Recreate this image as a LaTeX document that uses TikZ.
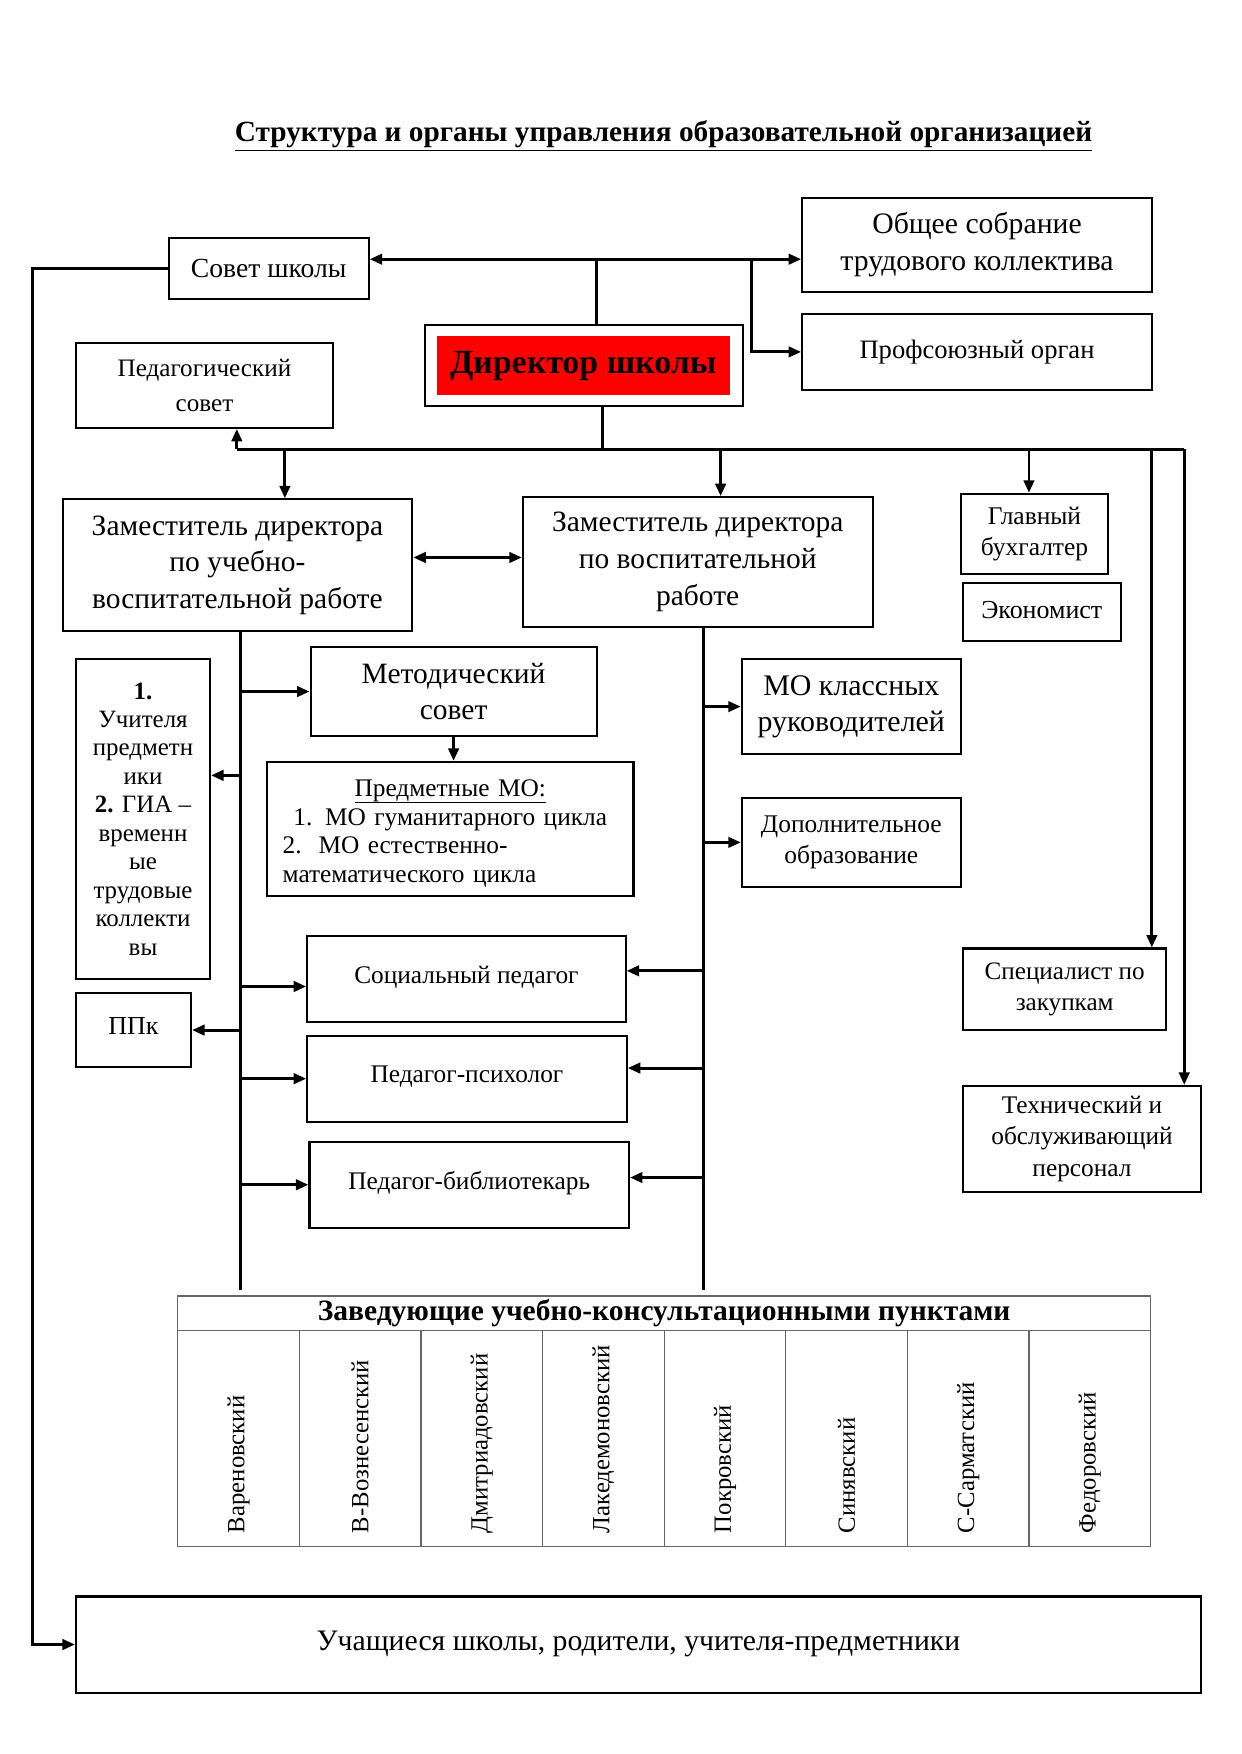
\documentclass[tikz,border=0pt]{standalone}
\usepackage{fontspec}
\setmainfont{Liberation Serif}
\usepackage{tikz}
\usetikzlibrary{arrows.meta}

\newlength\unitpx
\setlength\unitpx{0.18902mm}

\tikzset{
  box/.style={draw, line width=1pt, inner sep=0pt, align=center},
  line/.style={line width=1.4pt},
  arr/.style={line width=1.4pt, -{Triangle[length=6pt,width=5pt]}},
  twoarr/.style={line width=1.4pt, {Triangle[length=6pt,width=5pt]}-{Triangle[length=6pt,width=5pt]}},
  cell/.style={draw=black!60, line width=0.6pt, inner sep=0pt},
}

\begin{document}
\begin{tikzpicture}[x=\unitpx,y=-\unitpx]
    \useasboundingbox (0,0) rectangle (1111,1570);
    % title
    \node[font=\fontsize{14.1}{16}\selectfont\bfseries] (title) at (594,122) {\underline{Структура и органы управления образовательной организацией}};

    % top row
    \node[box, minimum width=179\unitpx, minimum height=55\unitpx, font=\fontsize{13.3}{16}\selectfont] (sovet) at (240.5,240.5) {Совет школы};
    \node[box, minimum width=313\unitpx, minimum height=84\unitpx, font=\fontsize{14.3}{17.7}\selectfont] (obshee) at (874.5,219) {Общее собрание\\трудового коллектива};
    \node[box, minimum width=313\unitpx, minimum height=68\unitpx, font=\fontsize{12.8}{16}\selectfont] (prof) at (874.5,315) {\raisebox{3pt}{Профсоюзный орган}};
    \node[box, minimum width=285\unitpx, minimum height=72\unitpx] (dir) at (522.5,327) {};
    \node[fill=red, minimum width=262\unitpx, minimum height=53\unitpx, inner sep=0pt, font=\fontsize{16.3}{18}\selectfont\bfseries] (dirtext) at (522,327.5) {\raisebox{3pt}{Директор школы}};
    \node[box, minimum width=230\unitpx, minimum height=76\unitpx, font=\fontsize{12.1}{16.6}\selectfont] (pedsovet) at (183,345) {Педагогический\\совет};

    % deputies
    \node[box, minimum width=313\unitpx, minimum height=118\unitpx, font=\fontsize{14.2}{17.7}\selectfont] (zamuvr) at (212.5,506) {Заместитель директора\\по учебно-\\воспитательной работе};
    \node[box, minimum width=313\unitpx, minimum height=116\unitpx, font=\fontsize{14.2}{17.7}\selectfont] (zamvr) at (624.5,503) {Заместитель директора\\по воспитательной\\работе};
    \node[box, minimum width=132\unitpx, minimum height=72\unitpx, font=\fontsize{12.25}{14.5}\selectfont] (glbuh) at (926,478) {Главный\\бухгалтер};
    \node[box, minimum width=141\unitpx, minimum height=52\unitpx, font=\fontsize{12.5}{15}\selectfont] (ekon) at (932.5,548) {\raisebox{2pt}{Экономист}};

    % left column
    \node[box, minimum width=256\unitpx, minimum height=80\unitpx, font=\fontsize{14.2}{17.7}\selectfont] (metod) at (406,619) {Методический\\совет};
    \node[box, minimum width=328\unitpx, minimum height=120\unitpx, text width=300\unitpx, align=left, font=\fontsize{12.2}{13.9}\selectfont] (predmo) at (403,742) {\makebox[\linewidth][c]{\rule{0pt}{12.5pt}\underline{\raisebox{0pt}[\height][1.6pt]{Предметные МО:}}}\\\makebox[\linewidth][c]{1. МО гуманитарного цикла}\\2.\ \ МО естественно-\\математического цикла};
    \node[box, minimum width=120\unitpx, minimum height=286\unitpx, font=\fontsize{12}{13.7}\selectfont] (teach) at (128,733) {\textbf{1.}\\Учителя\\предметн\\ики\\\textbf{2.} ГИА --\\временн\\ые\\трудовые\\коллекти\\вы};
    \node[box, minimum width=103\unitpx, minimum height=66\unitpx, font=\fontsize{12.5}{15}\selectfont] (ppk) at (119.5,922) {\raisebox{4pt}{ППк}};
    \node[box, minimum width=285\unitpx, minimum height=77\unitpx, font=\fontsize{12.2}{15}\selectfont] (soc) at (417.5,876.5) {\raisebox{4pt}{Социальный педагог}};
    \node[box, minimum width=286\unitpx, minimum height=77\unitpx, font=\fontsize{12.2}{15}\selectfont] (psy) at (418,965.5) {\raisebox{4pt}{Педагог-психолог}};
    \node[box, minimum width=286\unitpx, minimum height=77\unitpx, font=\fontsize{12.2}{15}\selectfont] (bib) at (420,1060.5) {\raisebox{4pt}{Педагог-библиотекарь}};

    % right column
    \node[box, minimum width=196\unitpx, minimum height=85\unitpx, font=\fontsize{14.4}{17.2}\selectfont] (mokl) at (762,632.5) {МО классных\\руководителей};
    \node[box, minimum width=196\unitpx, minimum height=80\unitpx, font=\fontsize{12.25}{15}\selectfont] (dop) at (762,754) {Дополнительное\\образование};
    \node[box, minimum width=182\unitpx, minimum height=73\unitpx, font=\fontsize{12.1}{15}\selectfont] (zakup) at (953,885.5) {Специалист по\\закупкам};
    \node[box, minimum width=213\unitpx, minimum height=95\unitpx, font=\fontsize{12.2}{15}\selectfont] (tech) at (968.5,1019.5) {Технический и\\обслуживающий\\персонал};

    % table of points
    \node[cell, minimum width=871\unitpx, minimum height=31\unitpx, font=\fontsize{14.2}{16}\selectfont\bfseries] (head) at (594.5,1175.5) {Заведующие учебно-консультационными пунктами};
    \foreach \name [count=\i] in {Вареновский, В-Вознесенский, Дмитриадовский, Лакедемоновский, Покровский, Синявский, С-Сарматский, Федоровский} {
        \node[cell, minimum width=108.9\unitpx, minimum height=193\unitpx] (p\i) at ({159+108.875*(\i-0.5)},1287.5) {};
        \node[rotate=90, anchor=west, inner sep=0pt, font=\fontsize{11.9}{14}\selectfont] (t\i) at ([yshift=12\unitpx]p\i.south) {\name};
    }

    \node[box, minimum width=1007\unitpx, minimum height=86\unitpx, font=\fontsize{14.3}{16}\selectfont] (pupils) at (571.5,1472) {\raisebox{4pt}{Учащиеся школы, родители, учителя-предметники}};

    % connectors at the top
    \coordinate (top) at (534,232);
    \draw[line] (top |- dir.north) -- (top);
    \draw[twoarr] (sovet.east |- top) -- (obshee.west |- top);
    \draw[arr] (673,232) |- (prof.west);
    \draw[arr] (sovet.west) -- ++(-121,0) |- (pupils.west);

    % bus under the director
    \coordinate (busD) at (539,402);
    \coordinate (busL) at (212,402);
    \coordinate (busR) at (1060,402);
    \draw[line] (busD |- dir.south) -- (busD);
    \draw[line] (busL) -- (busR);
    \draw[arr] (busL) -- (busL |- pedsovet.south);
    \foreach \x/\n in {255/zamuvr, 645/zamvr, 921/glbuh, 1031/zakup, 1060/tech}
        \draw[arr] (\x,402) -- (\x,402 |- \n.north);
    \draw[twoarr] (zamuvr.east |- 0,499) -- (zamvr.west |- 0,499);

    % left trunk
    \coordinate (lt) at (215,1155);
    \draw[line] (lt |- zamuvr.south) -- (lt);
    \draw[arr] (lt |- metod.west) -- (metod.west);
    \draw[arr] (lt |- 0,694) -- (teach.east |- 0,694);
    \draw[arr] (lt |- 0,883) -- (soc.west |- 0,883);
    \draw[arr] (lt |- ppk.east) -- (ppk.east);
    \draw[arr] (lt |- psy.west) -- (psy.west);
    \draw[arr] (lt |- bib.west) -- (bib.west);
    \draw[arr] (metod.south) -- (metod.south |- predmo.north);

    % right trunk
    \coordinate (rt) at (630,1155);
    \draw[line] (rt |- zamvr.south) -- (rt);
    \draw[arr] (rt |- mokl.west) -- (mokl.west);
    \draw[arr] (rt |- dop.west) -- (dop.west);
    \draw[arr] (rt |- 0,869) -- (soc.east |- 0,869);
    \draw[arr] (rt |- 0,956) -- (psy.east |- 0,956);
    \draw[arr] (rt |- 0,1054) -- (bib.east |- 0,1054);
\end{tikzpicture}
\end{document}
